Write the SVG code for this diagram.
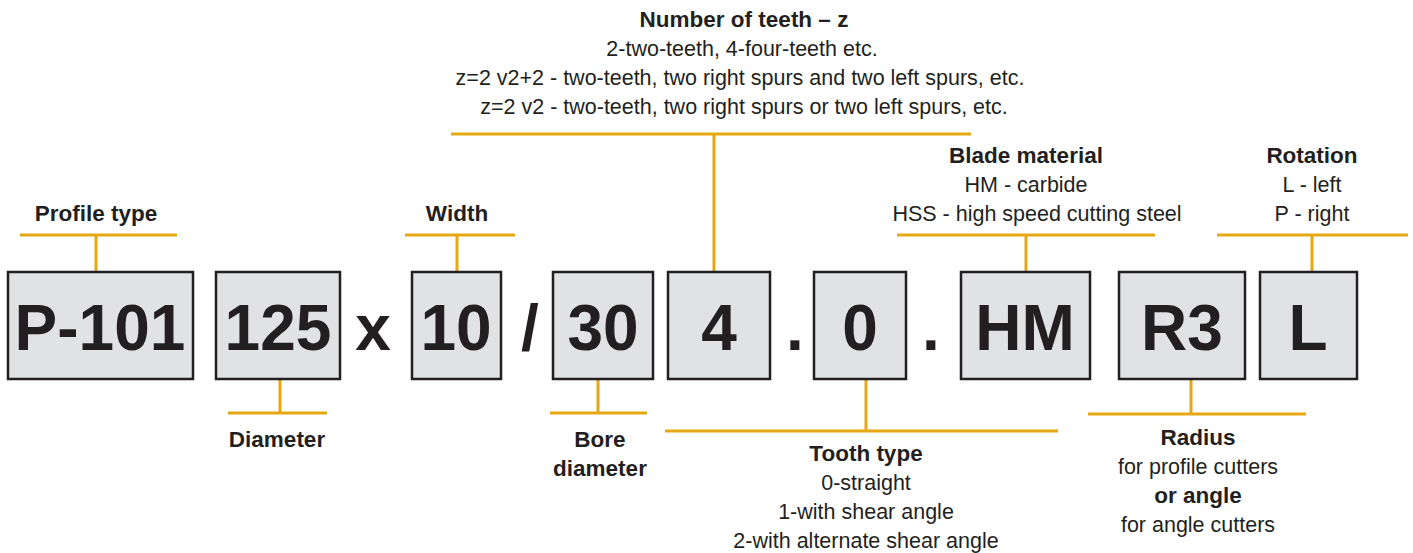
<svg xmlns="http://www.w3.org/2000/svg" width="1413" height="553" viewBox="0 0 1413 553">
<style>
text{font-family:"Liberation Sans",Arial,sans-serif;fill:#231f20;text-anchor:middle}
.b{font-weight:bold;font-size:22.5px}
.r{font-size:21.5px}
.big{font-weight:bold;font-size:64px}
.box{fill:#e1e2e4;stroke:#231f20;stroke-width:2.5}
.ln{stroke:#e5a812;stroke-width:3;fill:none}
</style>
<rect width="1413" height="553" fill="#fff"/>
<g id="connectors">
<path class="ln" d="M20 235H177M96 235V271"/>
<path class="ln" d="M405 235H515M457 235V271"/>
<path class="ln" d="M451 134H971M714 134V271"/>
<path class="ln" d="M897 235H1155M1026 235V271"/>
<path class="ln" d="M1217 235H1408M1312 235V271"/>
<path class="ln" d="M280 379V413M228 413H327"/>
<path class="ln" d="M598 379V413M550 413H647"/>
<path class="ln" d="M866 379V431M665 431H1058"/>
<path class="ln" d="M1191 379V414M1088 414H1306"/>
</g>
<g id="box-p101"><rect class="box" x="8" y="272" width="185" height="107"/><text class="big" x="100" y="350">P-101</text></g>
<g id="box-125"><rect class="box" x="216" y="272" width="124" height="107"/><text class="big" x="278" y="350">125</text></g>
<g id="sep-x"><text class="big" x="373" y="350">x</text></g>
<g id="box-10"><rect class="box" x="412" y="272" width="89" height="107"/><text class="big" x="456" y="350">10</text></g>
<g id="sep-slash"><text class="big" x="530" y="350">/</text></g>
<g id="box-30"><rect class="box" x="553" y="272" width="100" height="107"/><text class="big" x="603" y="350">30</text></g>
<g id="box-4"><rect class="box" x="668" y="272" width="102" height="107"/><text class="big" x="719" y="350">4</text></g>
<g id="sep-dot1"><text class="big" x="795" y="350">.</text></g>
<g id="box-0"><rect class="box" x="814" y="272" width="92" height="107"/><text class="big" x="860" y="350">0</text></g>
<g id="sep-dot2"><text class="big" x="931" y="350">.</text></g>
<g id="box-hm"><rect class="box" x="961" y="272" width="129" height="107"/><text class="big" x="1025" y="350">HM</text></g>
<g id="box-r3"><rect class="box" x="1119" y="272" width="126" height="107"/><text class="big" x="1182" y="350">R3</text></g>
<g id="box-l"><rect class="box" x="1260" y="272" width="97" height="107"/><text class="big" x="1308" y="350">L</text></g>
<g id="label-profile"><text class="b" x="96" y="221">Profile type</text></g>
<g id="label-width"><text class="b" x="457" y="221">Width</text></g>
<g id="label-teeth">
<text class="b" x="744" y="27">Number of teeth – z</text>
<text class="r" x="742" y="56">2-two-teeth, 4-four-teeth etc.</text>
<text class="r" x="740" y="85">z=2 v2+2 - two-teeth, two right spurs and two left spurs, etc.</text>
<text class="r" x="744" y="114">z=2 v2 - two-teeth, two right spurs or two left spurs, etc.</text>
</g>
<g id="label-blade">
<text class="b" x="1026" y="163">Blade material</text>
<text class="r" x="1026" y="192">HM - carbide</text>
<text class="r" x="1037" y="221">HSS - high speed cutting steel</text>
</g>
<g id="label-rotation">
<text class="b" x="1312" y="163">Rotation</text>
<text class="r" x="1312" y="192">L - left</text>
<text class="r" x="1312" y="221">P - right</text>
</g>
<g id="label-diameter"><text class="b" x="277" y="447">Diameter</text></g>
<g id="label-bore"><text class="b" x="600" y="447">Bore</text><text class="b" x="600" y="476">diameter</text></g>
<g id="label-tooth">
<text class="b" x="866" y="461">Tooth type</text>
<text class="r" x="866" y="490">0-straight</text>
<text class="r" x="866" y="519">1-with shear angle</text>
<text class="r" x="866" y="548">2-with alternate shear angle</text>
</g>
<g id="label-radius">
<text class="b" x="1198" y="445">Radius</text>
<text class="r" x="1198" y="474">for profile cutters</text>
<text class="b" x="1198" y="503">or angle</text>
<text class="r" x="1198" y="532">for angle cutters</text>
</g>
</svg>
